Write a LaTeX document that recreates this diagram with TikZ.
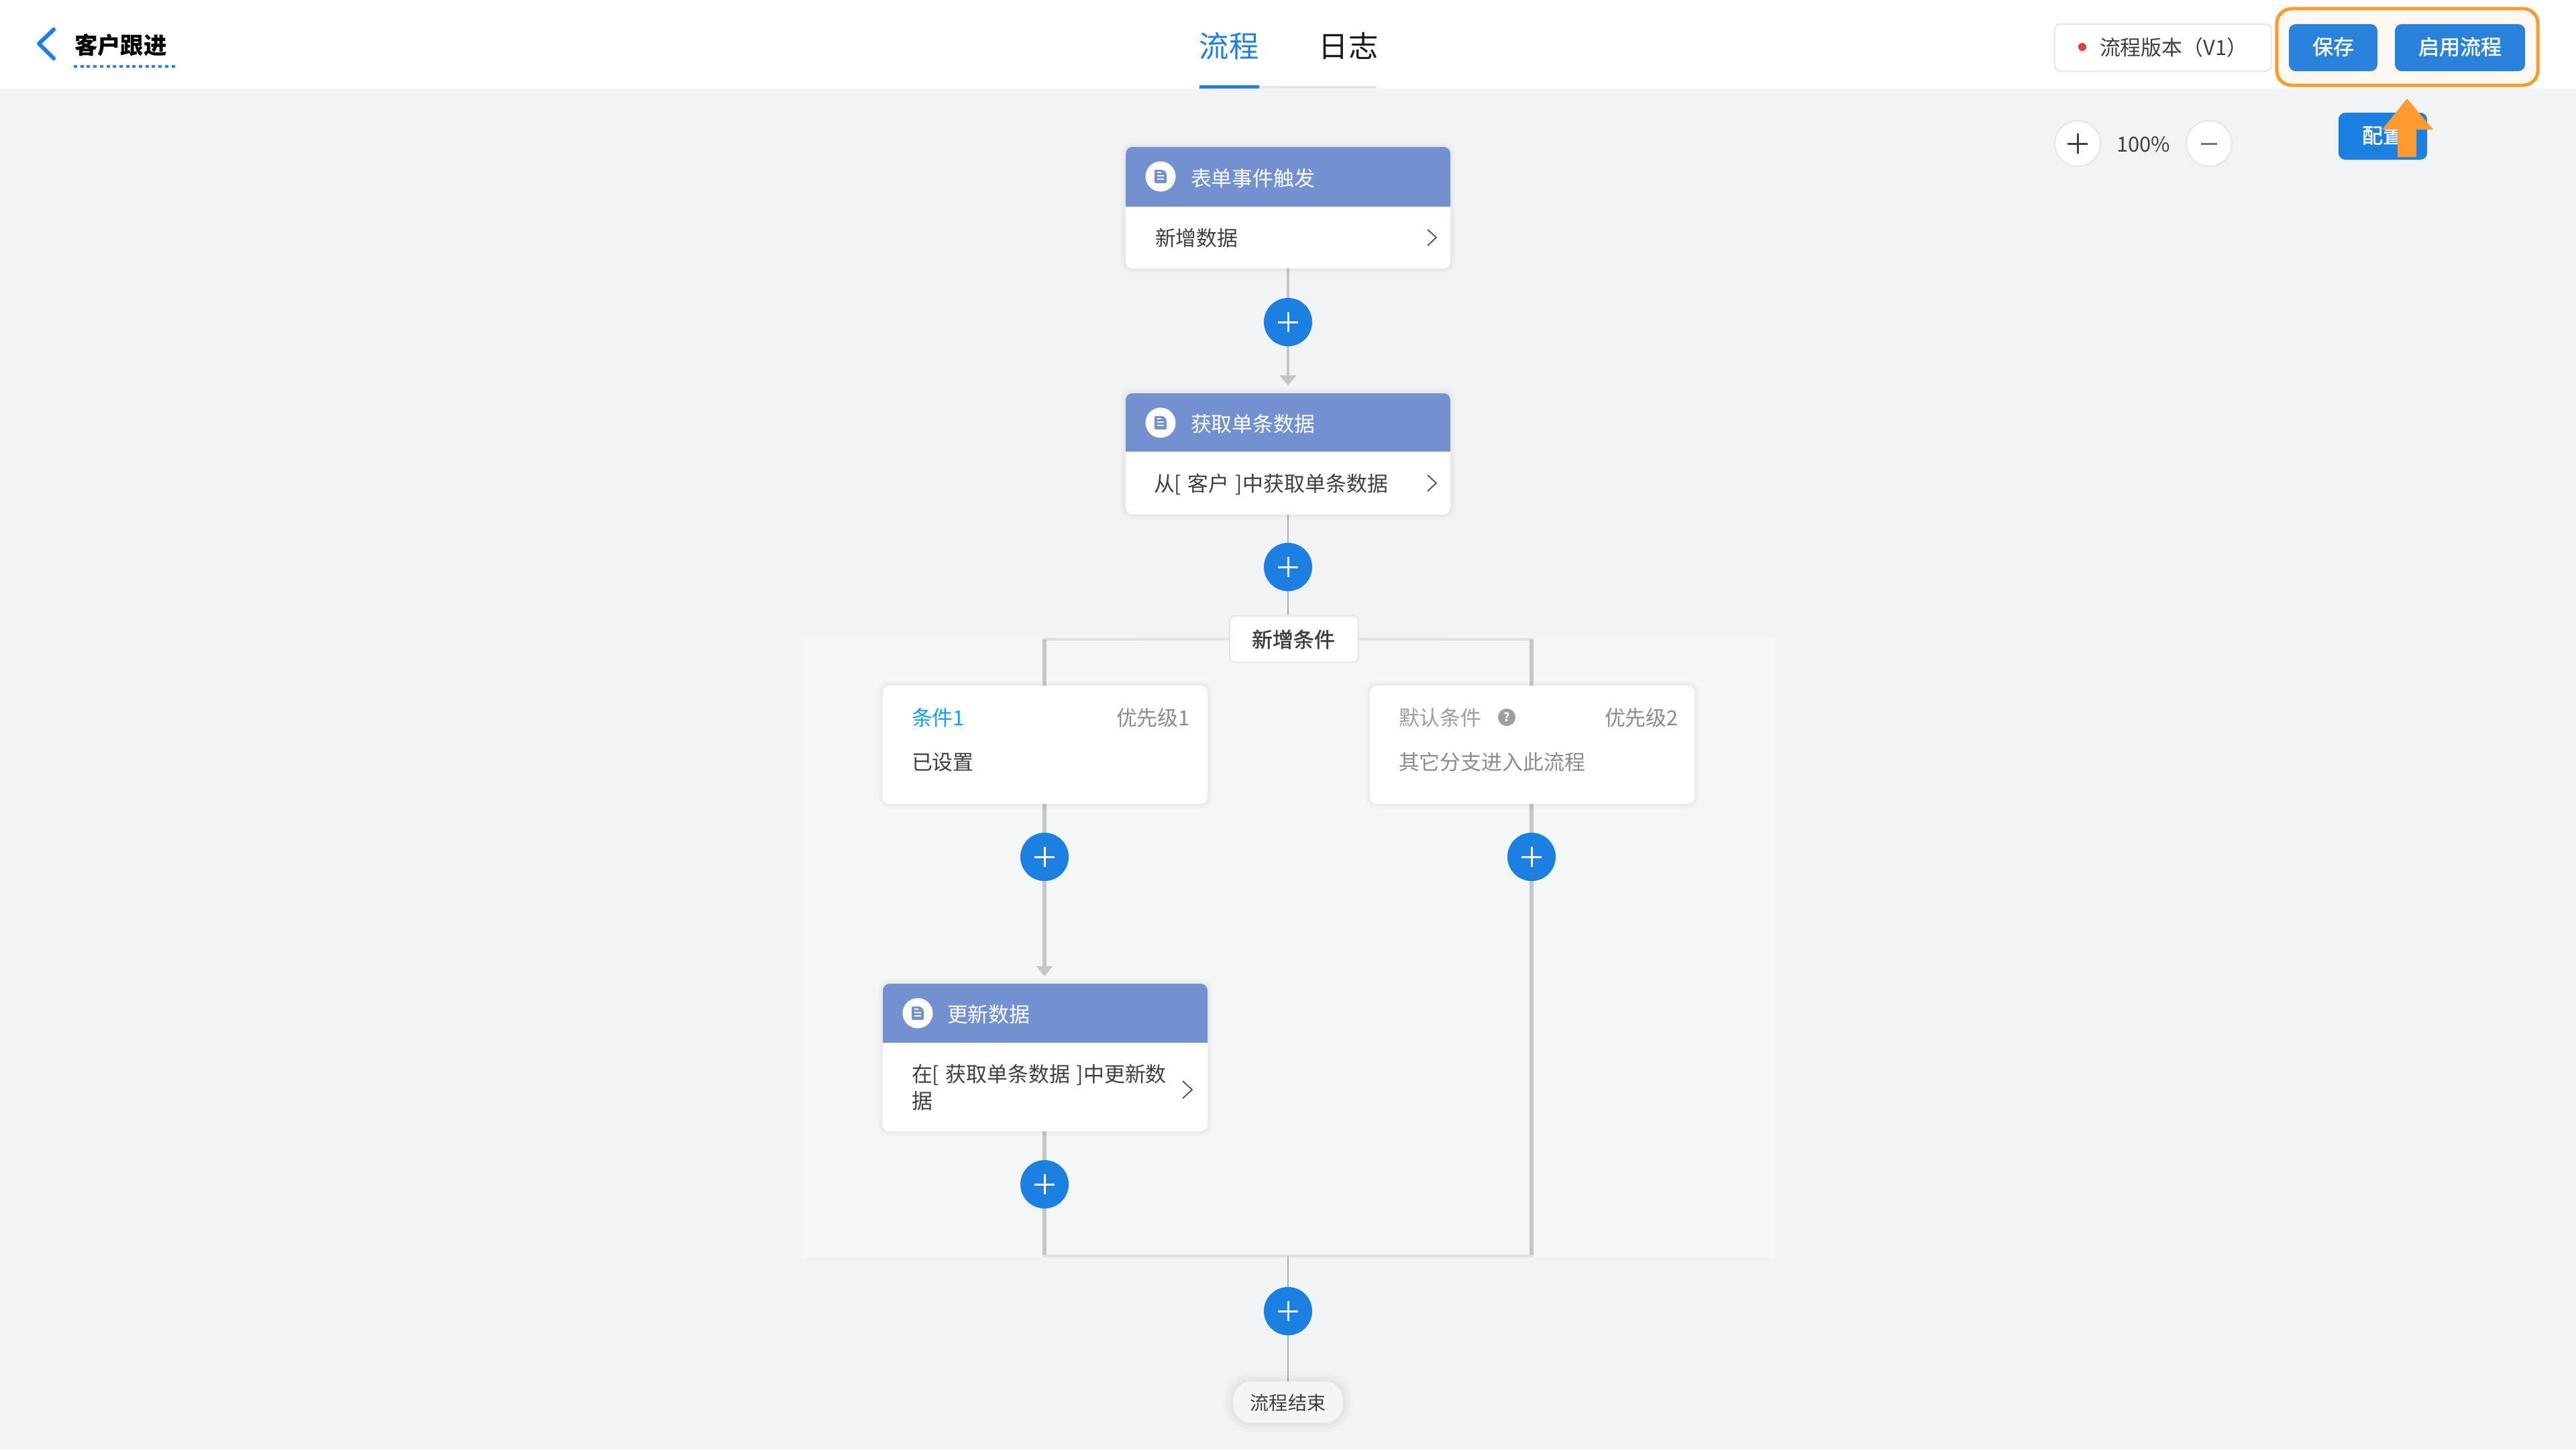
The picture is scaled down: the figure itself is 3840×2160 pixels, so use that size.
\documentclass[tikz,border=0pt]{standalone}
\usepackage{fontspec}
\setmainfont{Noto Sans CJK SC}
\newfontfamily\medcjk[FakeBold=1.6]{Noto Sans CJK SC}
\usetikzlibrary{arrows.meta}
\pgfdeclarelayer{panel}
\pgfdeclarelayer{wires}
\pgfsetlayers{panel,wires,main}
\definecolor{pagebg}{HTML}{F2F3F5}
\definecolor{branchbg}{HTML}{F5F6F6}
\definecolor{headblue}{HTML}{7391D0}
\definecolor{btnblue}{HTML}{1C80E3}
\definecolor{btnblueb}{HTML}{2B82DC}
\definecolor{wire}{HTML}{C6C6C6}
\definecolor{wirelight}{HTML}{E0E0E0}
\definecolor{wirethin}{HTML}{ABABAB}
\definecolor{edgegray}{HTML}{E3E6EE}
\definecolor{orangeA}{HTML}{FF9A2E}
\definecolor{orangebg}{HTML}{FEF8F2}
\definecolor{inktext}{HTML}{3F3F3F}
\definecolor{graytext}{HTML}{8C8C8C}
\definecolor{cyantext}{HTML}{0FA0F5}
\definecolor{dotred}{HTML}{E53E3E}
\definecolor{pillfill}{HTML}{F5F5F5}
\definecolor{chevgray}{HTML}{505050}
\newcommand{\wsp}{\hspace{.3em}}
\tikzset{
  txt/.style={inner sep=0pt,outer sep=0pt,text height=8.2pt,text depth=1pt},
  f31/.style={font=\fontsize{8.8}{11.38}\selectfont},
  f28/.style={font=\fontsize{8}{10}\selectfont},
  softshadow/.style={
    preaction={draw=black,draw opacity=.012,line width=.16cm},
    preaction={draw=black,draw opacity=.014,line width=.10cm},
    preaction={draw=black,draw opacity=.016,line width=.05cm}},
  cardbox/.style={rectangle,rounded corners=.1cm,fill=white,inner sep=0pt,outer sep=0pt,
    minimum width=4.84cm,softshadow},
  plusb/.style={circle,fill=btnblue,inner sep=0pt,outer sep=0pt,minimum size=.72cm},
  plusmark/.style={draw=white,line width=.03cm},
  conn/.style={draw=wire,line width=.055cm},
  connmid/.style={draw=wire,line width=.043cm},
  connarrow/.style={conn,-{Triangle[width=.24cm,length=.15cm]}},
  connmidarrow/.style={connmid,-{Triangle[width=.24cm,length=.15cm]}},
  connlight/.style={draw=wirelight,line width=.04cm},
  connthin/.style={draw=wirethin,line width=.025cm},
  chev/.style={draw=chevgray,line width=.018cm,line join=round},
  roundbtn/.style={circle,draw=edgegray,line width=.02cm,fill=white,inner sep=0pt,outer sep=0pt,minimum size=.68cm},
  bluebtn/.style={rectangle,rounded corners=.1cm,inner sep=0pt,outer sep=0pt,minimum height=.7cm,text=white,
    text height=7.7pt,text depth=1.82pt,font=\medcjk\fontsize{8.8}{11}\selectfont},
}
\newcommand{\plusbutton}[3]{%
  \node[plusb] (#1) at (#2,#3) {};
  \draw[plusmark,shift={(#1.center)}] (-15,0) -- (15,0) (0,-15) -- (0,15);}
\newcommand{\docicon}[3]{%
  \node[circle,fill=white,inner sep=0pt,outer sep=0pt,minimum size=.45cm] (#1) at (#2,#3) {};
  \fill[headblue,shift={(#1.center)},rounded corners=.02cm] (-9,-10) -- (4,-10) -- (9,-5) -- (9,10) -- (-9,10) -- cycle;
  \draw[white,line width=.014cm,shift={(#1.center)}] (-5,-1) -- (5,-1) (-5,4) -- (5,4) (-5,-6) -- (1,-6);}
\newcommand{\headband}[4]{% x1 x2 ytop ybot
  \fill[headblue] (#1,#4) [rounded corners=.1cm] -- (#1,#3) -- (#2,#3) [sharp corners] -- (#2,#4) -- cycle;}
\begin{document}
\begin{tikzpicture}[x=.01cm,y=-.01cm]
\useasboundingbox (0,0) rectangle (3840,2160);
\begin{pgfonlayer}{panel}
  \fill[pagebg] (0,0) rectangle (3840,2160);
  \fill[white] (0,0) rectangle (3840,132);
  \fill[branchbg] (1195,950) rectangle (2646,1875);
\end{pgfonlayer}

% top bar, left
\draw[btnblue,line width=.06cm,line cap=round,line join=round] (80,44) -- (58,65) -- (80,87);
\node[txt,anchor=west,font=\fontsize{9.8}{12}\selectfont\bfseries,text=black] (pagetitle) at (111,68) {客户跟进};
\draw[btnblueb,line width=.035cm,dash pattern=on .05cm off .047cm] (110,99) -- (264,99);

% tabs
\node[txt,font=\fontsize{12.6}{15}\selectfont,text=btnblue] (tabflow) at (1832,73) {流程};
\node[txt,font=\fontsize{12.6}{15}\selectfont,text=black!90] (tablog) at (2010,73) {日志};
\fill[edgegray] (1877,128) rectangle (2052,132);
\fill[btnblue] (1788,127) rectangle (1877,132);

% top right
\node[rectangle,rounded corners=.08cm,draw=edgegray,line width=.02cm,fill=white,inner sep=0pt,outer sep=0pt,minimum width=3.23cm,minimum height=.7cm] (version) at (3224.5,71) {};
\node[circle,fill=dotred,inner sep=0pt,minimum size=.12cm] (reddot) at (3104,70) {};
\node[txt,f31,anchor=west,text=inktext] (versiontext) at (3130,70) {流程版本（V1）};
\node[rectangle,rounded corners=.22cm,draw=orangeA,line width=.05cm,fill=orangebg,inner sep=0pt,outer sep=0pt,minimum width=3.89cm,minimum height=1.14cm] (hilite) at (3588.5,70) {};
\node[bluebtn,fill=btnblueb,minimum width=1.32cm] (save) at (3478,71) {保存};
\node[bluebtn,fill=btnblueb,minimum width=1.94cm] (enable) at (3667,71) {启用流程};

% zoom controls
\node[roundbtn] (zoomin) at (3097,214) {};
\draw[black!75,line width=.03cm,shift={(zoomin.center)}] (-15,0) -- (15,0) (0,-15) -- (0,15);
\node[txt,f31,text=inktext] (zoomval) at (3195,214) {100\%};
\node[roundbtn] (zoomout) at (3293,214) {};
\draw[black!55,line width=.03cm,shift={(zoomout.center)}] (-12,0) -- (12,0);
\node[bluebtn,fill=btnblue,minimum width=1.32cm] (config) at (3552,203) {配置};
\fill[orangeA] (3588,147) -- (3627,193) -- (3602,193) -- (3602,234) -- (3574,234) -- (3574,193) -- (3551,193) -- cycle;

% flow nodes
\node[cardbox,minimum height=1.81cm] (cardA) at (1920,309.5) {};
\headband{1678}{2162}{219}{308}
\docicon{iconA}{1730}{263}
\node[txt,f31,anchor=west,text=white] (titleA) at (1775,265) {表单事件触发};
\node[txt,f31,anchor=west,text=inktext] (bodyA) at (1722,354) {新增数据};
\draw[chev] (2128,342) -- (2141,354) -- (2128,366);
\plusbutton{plusA}{1920}{480}

\node[cardbox,minimum height=1.81cm] (cardB) at (1920,676) {};
\headband{1678}{2162}{586}{673}
\docicon{iconB}{1730}{630}
\node[txt,f31,anchor=west,text=white] (titleB) at (1775,631) {获取单条数据};
\node[txt,f31,anchor=west,text=inktext] (bodyB) at (1720,720) {从[\wsp 客户\wsp ]中获取单条数据};
\draw[chev] (2128,708) -- (2141,720) -- (2128,732);
\plusbutton{plusB}{1920}{845}

\node[rectangle,rounded corners=.08cm,draw=edgegray,line width=.02cm,fill=white,inner sep=0pt,outer sep=0pt,minimum width=1.92cm,minimum height=.69cm] (addcond) at (1929,952.5) {};
\node[txt,anchor=center,font=\medcjk\fontsize{8.8}{11}\selectfont,text=inktext] (addcondtext) at (1928,952) {新增条件};

\coordinate (topL) at (1557,953);
\coordinate (topR) at (2283,953);
\coordinate (botL) at (1557,1872);
\coordinate (botR) at (2283,1872);
\coordinate (botC) at (1920,1872);

\node[cardbox,minimum height=1.76cm] (condA) at (1558,1110) {};
\node[txt,f31,anchor=west,text=cyantext] (condAname) at (1359,1069) {条件1};
\node[txt,f31,anchor=east,text=graytext] (condAprio) at (1774,1069) {优先级1};
\node[txt,f31,anchor=west,text=inktext] (condAbody) at (1359,1135) {已设置};
\plusbutton{plusC}{1557}{1277}

\node[cardbox,minimum height=1.76cm] (condB) at (2284,1110) {};
\node[txt,f31,anchor=west,text=graytext!85] (condBname) at (2085,1069) {默认条件};
\node[circle,fill=black!38,inner sep=0pt,outer sep=0pt,minimum size=.26cm,text=white,font=\fontsize{5}{6}\selectfont\bfseries] (condBhelp) at (2246,1069) {?};
\node[txt,f31,anchor=east,text=graytext] (condBprio) at (2502,1069) {优先级2};
\node[txt,f31,anchor=west,text=graytext] (condBbody) at (2085,1135) {其它分支进入此流程};
\plusbutton{plusD}{2283}{1277}

\node[cardbox,minimum height=2.2cm] (cardC) at (1558,1576) {};
\headband{1316}{1800}{1466}{1554}
\docicon{iconC}{1368}{1510}
\node[txt,f31,anchor=west,text=white] (titleC) at (1412,1511) {更新数据};
\node[f31,anchor=west,inner sep=0pt,outer sep=0pt,align=left,text=inktext] (bodyC) at (1359,1621) {在[\wsp 获取单条数据\wsp ]中更新数\\据};
\draw[chev] (1763,1611) -- (1777,1624) -- (1763,1637);
\plusbutton{plusE}{1557}{1765}

\plusbutton{plusF}{1920}{1954}
\node[rectangle,rounded corners=.26cm,fill=pillfill,inner sep=0pt,outer sep=0pt,minimum width=1.63cm,minimum height=.61cm,
  preaction={draw=black,draw opacity=.012,line width=.30cm,yshift=-.04cm},
  preaction={draw=black,draw opacity=.018,line width=.20cm,yshift=-.04cm},
  preaction={draw=black,draw opacity=.024,line width=.10cm,yshift=-.04cm}] (endpill) at (1920,2089.5) {};
\node[txt,f28,text=inktext] (endtext) at (1920,2089) {流程结束};

% connectors
\begin{pgfonlayer}{wires}
  \draw[connmid] (cardA.south) -- (plusA.north);
  \draw[connmidarrow] (plusA.south) -- ([yshift=.11cm]cardB.north);
  \draw[connthin] (cardB.south) -- (plusB.north);
  \draw[connthin] (plusB.south) -- (plusB.south |- addcond.north);
  \draw[connlight] (addcond.west) -- ([xshift=-.03cm]topL);
  \draw[connlight] (addcond.east) -- ([xshift=.03cm]topR);
  \draw[conn] (topL) -- (topL |- condA.north);
  \draw[conn] (topR) -- (topR |- condB.north);
  \draw[conn] (topL |- condA.south) -- (plusC.north);
  \draw[connarrow] (plusC.south) -- ([yshift=.11cm]plusC.south |- cardC.north);
  \draw[conn] (topR |- condB.south) -- (plusD.north);
  \draw[conn] (plusD.south) -- (botR);
  \draw[conn] (topL |- cardC.south) -- (plusE.north);
  \draw[conn] (plusE.south) -- (botL);
  \draw[connlight] ([xshift=-.03cm]botL) -- ([xshift=.03cm]botR);
  \draw[connthin] (botC) -- (plusF.north);
  \draw[connthin] (plusF.south) -- (endpill.north);
\end{pgfonlayer}
\end{tikzpicture}
\end{document}
